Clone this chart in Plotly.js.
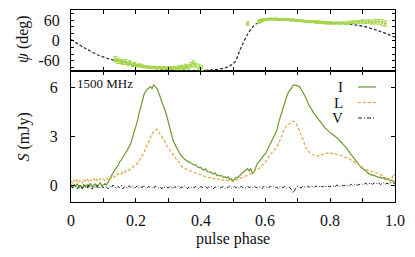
<!DOCTYPE html>
<html>
<head>
<meta charset="utf-8">
<script src="https://cdn.plot.ly/plotly-3.0.1.min.js"></script>
<style>
html,body{margin:0;padding:0;background:#fff;}
#chart{width:415px;height:257px;}
</style>
</head>
<body>
<div id="chart"></div>
<script>
// ---- Profile data (201 phase bins from 0 to 1) ----
var stokesI = [
0.05,-0.10,0.08,-0.05,0.12,-0.15,0.02,-0.20,0.10,-0.08,0.05,-0.12,0.15,-0.05,0.02,0.10,-0.10,0.05,0.18,-0.02,
0.08,0.12,0.05,0.20,0.40,0.62,0.80,0.95,1.10,1.22,1.45,1.55,1.75,1.90,2.05,2.20,2.38,2.60,2.95,3.25,
3.60,3.95,4.40,4.80,5.25,5.55,5.75,5.90,5.95,6.05,5.92,6.15,6.05,5.95,5.70,5.45,5.20,4.90,4.60,4.30,
3.90,3.50,3.15,2.75,2.55,2.35,2.10,1.98,1.85,1.70,1.62,1.55,1.48,1.42,1.40,1.30,1.25,1.28,1.15,1.10,
1.12,1.00,0.95,1.02,0.88,0.82,0.85,0.75,0.70,0.78,0.62,0.65,0.58,0.62,0.50,0.55,0.45,0.55,0.38,0.42,
0.28,0.40,0.52,0.48,0.62,0.70,0.80,0.85,0.95,1.02,0.90,1.05,0.75,0.85,1.15,1.35,1.45,1.60,1.70,1.85,
1.95,2.15,2.40,2.60,2.75,2.95,3.15,3.35,3.80,4.15,4.50,4.85,5.15,5.40,5.65,5.85,5.95,6.10,6.15,6.12,
6.10,6.05,5.90,5.75,5.55,5.35,5.10,4.90,4.75,4.55,4.40,4.30,4.10,4.00,3.90,3.75,3.65,3.50,3.42,3.30,
3.22,3.15,3.10,3.02,2.92,2.85,2.72,2.65,2.52,2.42,2.30,2.15,2.02,1.90,1.75,1.65,1.50,1.38,1.25,1.12,
1.05,0.95,0.88,0.80,0.72,0.70,0.62,0.65,0.58,0.55,0.50,0.52,0.45,0.48,0.40,0.38,0.42,0.30,0.32,0.25,
0.22];
var stokesL = [
0.30,0.15,0.35,0.20,0.40,0.25,0.32,0.18,0.38,0.28,0.42,0.22,0.35,0.30,0.45,0.25,0.38,0.30,0.42,0.35,
0.40,0.30,0.45,0.38,0.50,0.45,0.60,0.52,0.65,0.70,0.75,0.70,0.85,0.80,0.92,0.88,1.00,1.05,1.12,1.20,
1.28,1.35,1.50,1.65,1.85,2.00,2.25,2.50,2.75,2.95,3.15,3.28,3.35,3.45,3.30,3.15,3.05,2.92,2.70,2.45,
2.30,2.15,2.02,1.90,1.75,1.62,1.50,1.38,1.25,1.12,1.08,1.00,0.95,0.92,0.88,0.85,0.80,0.78,0.74,0.72,
0.68,0.62,0.60,0.55,0.52,0.48,0.50,0.45,0.42,0.45,0.38,0.40,0.35,0.38,0.32,0.35,0.30,0.33,0.28,0.30,
0.25,0.30,0.35,0.40,0.42,0.48,0.52,0.55,0.60,0.62,0.68,0.72,0.78,0.85,0.90,0.95,1.05,1.15,1.22,1.32,
1.45,1.60,1.78,1.92,2.02,2.12,2.22,2.38,2.55,2.75,3.00,3.30,3.52,3.62,3.72,3.82,3.88,3.95,3.85,3.78,
3.60,3.40,3.10,2.85,2.55,2.30,2.15,2.02,1.95,1.90,1.85,1.82,1.80,1.85,1.82,1.90,1.92,1.95,1.98,2.00,
1.95,1.98,1.92,1.95,1.90,1.88,1.85,1.85,1.80,1.75,1.72,1.65,1.62,1.55,1.50,1.45,1.42,1.32,1.25,1.15,
1.10,1.02,0.98,0.95,0.92,0.88,0.85,0.82,0.80,0.78,0.72,0.68,0.62,0.58,0.52,0.45,0.38,0.30,0.45,0.70,
0.62];
var stokesV = [
-0.05,-0.15,0.02,-0.12,-0.20,0.05,-0.10,-0.18,0.00,-0.08,-0.15,0.08,-0.05,-0.22,-0.02,-0.10,0.05,-0.18,-0.08,-0.02,
-0.15,0.06,-0.10,-0.20,-0.02,-0.12,0.04,-0.08,-0.18,-0.05,-0.12,0.02,-0.20,-0.06,-0.10,-0.15,0.00,-0.12,-0.04,-0.18,
-0.08,-0.02,-0.15,-0.06,-0.12,0.02,-0.10,-0.16,-0.04,-0.12,-0.08,-0.18,-0.02,-0.10,-0.14,-0.06,-0.20,-0.05,-0.12,-0.08,
-0.15,-0.02,-0.10,-0.18,-0.06,-0.12,-0.04,-0.16,-0.08,-0.14,-0.02,-0.10,-0.18,-0.06,-0.12,-0.08,-0.15,-0.03,-0.12,-0.20,
-0.06,-0.10,-0.14,-0.02,-0.16,-0.08,-0.12,-0.05,-0.18,-0.08,-0.12,-0.04,-0.15,-0.10,-0.06,-0.18,-0.08,-0.12,-0.02,-0.16,
-0.10,-0.06,-0.14,-0.08,-0.18,-0.04,-0.12,-0.10,-0.15,-0.05,-0.12,-0.08,-0.16,-0.02,-0.10,-0.14,-0.06,-0.12,-0.18,-0.04,
-0.10,-0.08,-0.15,-0.02,-0.12,-0.06,-0.14,-0.08,-0.20,-0.05,-0.10,-0.12,-0.04,-0.16,-0.08,-0.10,-0.25,-0.45,-0.30,-0.12,
-0.05,-0.10,-0.15,-0.02,-0.08,-0.12,-0.04,-0.10,0.00,-0.08,-0.12,-0.02,-0.06,-0.10,0.02,-0.08,-0.04,-0.12,0.00,-0.05,
-0.08,0.02,-0.04,-0.10,0.04,-0.02,-0.06,0.05,-0.02,0.02,-0.05,0.06,0.00,0.08,-0.02,0.05,0.10,0.02,0.08,0.12,
0.04,0.10,0.15,0.06,0.12,0.18,0.08,0.14,0.20,0.10,0.16,0.06,0.12,0.18,0.08,0.15,0.10,0.20,0.12,0.16,
0.14];

// ---- Position angle data ----
var paPhase = [0.136,0.145,0.152,0.160,0.168,0.175,0.182,0.190,0.197,0.205,0.212,0.220,0.228,0.235,0.242,0.250,0.258,0.265,0.272,0.280,
0.288,0.295,0.302,0.310,0.318,0.325,0.332,0.340,0.348,0.355,0.362,0.370,0.378,0.385,0.395,0.403,
0.545,0.580,0.585,0.590,0.595,0.600,0.605,0.610,0.615,0.620,0.625,0.630,0.635,0.640,0.645,0.650,0.655,0.660,0.665,0.670,
0.675,0.680,0.685,0.690,0.695,0.700,0.705,0.710,0.715,0.720,0.725,0.730,0.735,0.740,0.745,0.750,0.755,0.760,0.765,0.770,
0.775,0.780,0.785,0.790,0.795,0.800,0.810,0.820,0.830,0.840,0.850,0.860,0.870,0.880,0.890,0.900,0.910,0.920,0.930,0.940,
0.950,0.960,0.970];
var paDeg = [-55,-60,-62,-65,-63,-68,-66,-72,-70,-74,-73,-76,-77,-78,-79,-80,-79,-81,-80,-81,
-80,-82,-80,-81,-80,-82,-79,-78,-80,-76,-78,-72,-68,-74,-78,-82,
50,55,58,60,61,62,63,63,64,63,63,64,63,63,62,63,62,62,61,62,
61,60,61,60,59,60,59,58,58,57,57,56,56,55,56,55,54,55,54,53,
54,53,52,53,52,52,51,52,51,52,51,53,54,55,55,56,55,56,54,56,
55,53,50];
var paErr = [8,8,6,6,7,5,6,5,5,4,4,4,3,3,3,3,3,3,3,3,
3,3,3,3,4,4,4,5,5,6,6,7,8,7,8,7,
5,4,4,3,3,3,2,2,2,2,2,2,2,2,2,2,2,2,2,2,
2,2,2,2,2,2,2,2,2,2,2,2,2,2,2,2,2,3,3,3,
3,3,3,3,3,3,3,3,3,3,4,4,4,4,4,5,5,5,6,7,
7,8,8];

// ---- RVM model curve ----
var modelPhase = [0.000,0.042,0.094,0.145,0.197,0.248,0.299,0.351,0.402,0.433,0.460,0.480,0.495,0.508,0.520,0.535,0.550,0.565,0.583,0.604,0.645,0.697,0.748,0.799,0.851,0.902,0.954,1.000];
var modelDeg   = [3,-22,-47,-61,-73,-81,-86,-89,-89,-87,-84,-79,-72,-60,-32,0,26,44,55,61,63,59,56,53,49,42,27,10];

var xTickVals = [0,0.1,0.2,0.3,0.4,0.5,0.6,0.7,0.8,0.9,1.0];
var xLabelVals = [0,0.2,0.4,0.6,0.8,1.0];
var xLabelText = ['0','0.2','0.4','0.6','0.8','1.0'];
var paTickVals = [-80,-60,-40,-20,0,20,40,60,80];
var paTickText = ['','-60','','','0','','','60',''];
var sTickVals = [0,3,6];
var sTickText = ['0','3','6'];

function binPhases(arr){ var n = arr.length; return arr.map(function(_, i){ return i/(n-1); }); }

var cI = '#6b9b2f', cL = '#e3a43a', cV = '#1a1a1a', cPA = '#a5d64c';

var traces = [
  {x: binPhases(stokesI), y: stokesI, type:'scatter', mode:'lines', line:{color:cI, width:1.2}, xaxis:'x', yaxis:'y', hoverinfo:'skip'},
  {x: binPhases(stokesL), y: stokesL, type:'scatter', mode:'lines', line:{color:cL, width:1.2, dash:'3px,2px'}, xaxis:'x', yaxis:'y', hoverinfo:'skip'},
  {x: binPhases(stokesV), y: stokesV, type:'scatter', mode:'lines', line:{color:cV, width:1, dash:'4px,2px,1px,2px'}, xaxis:'x', yaxis:'y', hoverinfo:'skip'},
  {x: modelPhase, y: modelDeg, type:'scatter', mode:'lines', line:{color:'#333', width:1.3, dash:'3px,2px', shape:'spline', smoothing:1}, xaxis:'x2', yaxis:'y2', hoverinfo:'skip'},
  {x: paPhase, y: paDeg, type:'scatter', mode:'markers', marker:{color:cPA, size:3},
   error_y:{type:'data', array:paErr, visible:true, color:cPA, thickness:1, width:2}, xaxis:'x2', yaxis:'y2', hoverinfo:'skip'}
];

var fontFam = 'Liberation Serif, Times New Roman, serif';
function tickFont(){ return {family:fontFam, size:16, color:'#111'}; }
var axisCommon = {showgrid:false, zeroline:false, showline:true, linecolor:'#000', linewidth:1, mirror:'allticks',
  ticks:'inside', ticklen:4, tickcolor:'#000', tickwidth:1};

var L0 = 71, R0 = 395, T0 = 10, B0 = 202;
function px2x(px){ return (px - L0)/(R0 - L0); }
function px2y(py){ return (B0 - py)/(B0 - T0); }
var splitY = px2y(71);

var annotations = [
  {xref:'paper', yref:'paper', x:px2x(75), y:px2y(83.5), xanchor:'left', yanchor:'middle', text:'1500 MHz', showarrow:false, font:{family:fontFam, size:13, color:'#111'}},
  {xref:'paper', yref:'paper', x:px2x(345), y:px2y(87), xanchor:'right', yanchor:'middle', text:'I', showarrow:false, font:{family:fontFam, size:15, color:'#111'}},
  {xref:'paper', yref:'paper', x:px2x(345), y:px2y(102.5), xanchor:'right', yanchor:'middle', text:'L', showarrow:false, font:{family:fontFam, size:15, color:'#111'}},
  {xref:'paper', yref:'paper', x:px2x(345), y:px2y(118), xanchor:'right', yanchor:'middle', text:'V', showarrow:false, font:{family:fontFam, size:15, color:'#111'}},
  {xref:'paper', yref:'paper', x:px2x(23), y:px2y(39), xanchor:'center', yanchor:'middle', textangle:-90, text:'<i>ψ</i> (deg)', showarrow:false, font:{family:fontFam, size:16, color:'#111'}},
  {xref:'paper', yref:'paper', x:px2x(23), y:px2y(137.5), xanchor:'center', yanchor:'middle', textangle:-90, text:'<i>S</i> (mJy)', showarrow:false, font:{family:fontFam, size:16, color:'#111'}},
  {xref:'paper', yref:'paper', x:0.5, y:px2y(238.5), xanchor:'center', yanchor:'middle', text:'pulse phase', showarrow:false, font:{family:fontFam, size:16, color:'#111'}}
];
xLabelVals.forEach(function(v, i){
  annotations.push({xref:'x', yref:'paper', x:v, y:px2y(220), xanchor:'center', yanchor:'middle', text:xLabelText[i], showarrow:false, font:tickFont()});
});

var layout = {
  width:415, height:257,
  margin:{l:L0, r:415-R0, t:T0, b:257-B0, pad:0},
  paper_bgcolor:'#fff', plot_bgcolor:'#fff',
  showlegend:false,
  font:{family:fontFam, size:16, color:'#111'},
  xaxis: Object.assign({}, axisCommon, {domain:[0,1], anchor:'y', range:[0,1], tickmode:'array', tickvals:xTickVals, showticklabels:false}),
  xaxis2: Object.assign({}, axisCommon, {domain:[0,1], anchor:'y2', range:[0,1], tickmode:'array', tickvals:xTickVals, showticklabels:false, matches:'x'}),
  yaxis: Object.assign({}, axisCommon, {domain:[0, splitY], anchor:'x', range:[-1,7], tickmode:'array', tickvals:sTickVals, ticktext:sTickText, ticklabelstandoff:9, tickfont:tickFont()}),
  yaxis2: Object.assign({}, axisCommon, {domain:[splitY, 1], anchor:'x2', range:[-90,90], tickmode:'array', tickvals:paTickVals, ticktext:paTickText, ticklen:3, ticklabelstandoff:7, tickfont:tickFont()}),
  annotations: annotations,
  shapes:[
    {type:'line', xref:'paper', yref:'paper', x0:px2x(358), x1:px2x(376), y0:px2y(87), y1:px2y(87), line:{color:cI, width:1.2}},
    {type:'line', xref:'paper', yref:'paper', x0:px2x(358), x1:px2x(376), y0:px2y(102.5), y1:px2y(102.5), line:{color:cL, width:1.2, dash:'3px,2px'}},
    {type:'line', xref:'paper', yref:'paper', x0:px2x(358), x1:px2x(376), y0:px2y(118), y1:px2y(118), line:{color:cV, width:1, dash:'4px,2px,1px,2px'}}
  ]
};

Plotly.newPlot('chart', traces, layout, {staticPlot:true, displayModeBar:false});
</script>
</body>
</html>
